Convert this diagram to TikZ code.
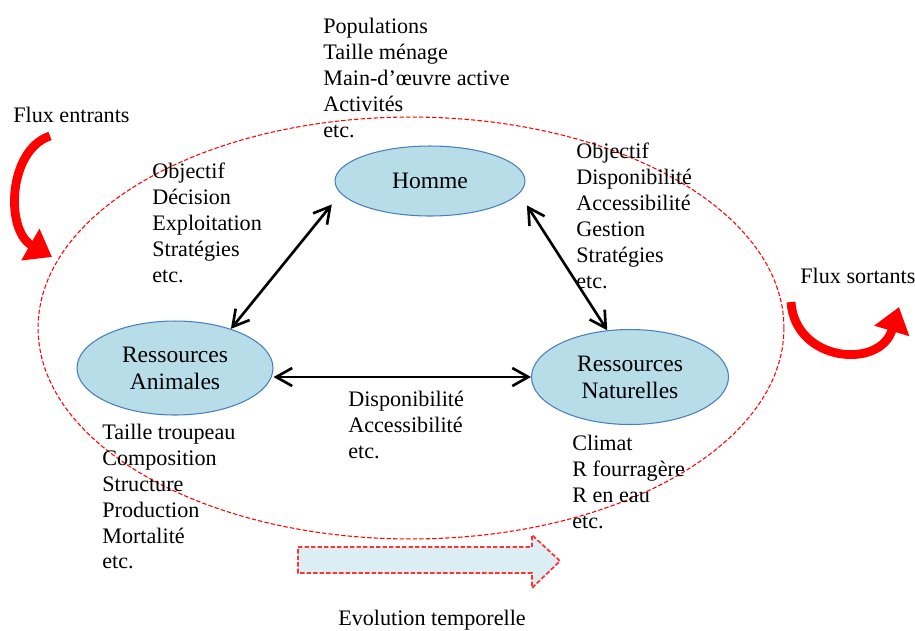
\documentclass[tikz,border=0pt]{standalone}
\usepackage{fontspec}
\setmainfont{Liberation Serif}
\usetikzlibrary{arrows.meta,calc,shapes.geometric}
\definecolor{poleblue}{HTML}{B7DDE8}
\definecolor{poleline}{HTML}{4A7EBB}
\definecolor{timeblue}{HTML}{DAEEF3}

\begin{document}
\begin{tikzpicture}[x=0.02cm,y=-0.02cm,>={Straight Barb[length=3.2mm,width=3.6mm]},
  every node/.style={font=\fontsize{12.6}{14.7}\selectfont},
  pole/.style={ellipse,draw=poleline,fill=poleblue,line width=0.6pt,inner sep=0pt,
    align=center,font=\fontsize{13.4}{15.3}\selectfont},
  info/.style={anchor=north west,inner sep=0pt,align=left},
  link/.style={<->,line width=1.5pt},
  flux/.style={red,line width=5pt,-{Triangle[length=5mm,width=7mm]}},
  boundary/.style={red,line width=0.6pt,dash pattern=on 2.5pt off 1.2pt},
  timeline/.style={fill=timeblue,draw=red!80,line width=1pt,dash pattern=on 2.5pt off 1.2pt}]
\useasboundingbox (0,0) rectangle (915,630);
% system boundary
\draw[boundary] (411,328) ellipse [x radius=7.46cm, y radius=4.22cm];
% poles
\node[pole,minimum width=3.8cm,minimum height=1.4cm] (homme) at (430,181) {Homme};
\node[pole,minimum width=3.92cm,minimum height=1.88cm] (animales) at (175,368) {Ressources\\Animales};
\node[pole,minimum width=3.94cm,minimum height=1.9cm] (naturelles) at (630,377) {Ressources\\Naturelles};
% interactions
\draw[link,shorten <=8pt] (homme.188) -- (animales.35);
\draw[link,shorten <=8pt] (homme.-8) -- (naturelles.116);
\draw[link] (naturelles.west -| animales.east) -- (naturelles.west);
% descriptors
\node[info] (menage) at (323,18) {Populations\\Taille ménage\\Main-d’œuvre active\\Activités\\etc.};
\node[info] (gestion) at (152,163) {Objectif\\Décision\\Exploitation\\Stratégies\\etc.};
\node[info] (acces) at (576,143) {Objectif\\Disponibilité\\Accessibilité\\Gestion\\Stratégies\\etc.};
\node[info] (echange) at (348,391) {Disponibilité\\Accessibilité\\etc.};
\node[info] (troupeau) at (102,424) {Taille troupeau\\Composition\\Structure\\Production\\Mortalité\\etc.};
\node[info] (milieu) at (572,435) {Climat\\R fourragère\\R en eau\\etc.};
% flows
\node[info] (entrants) at (13,107) {Flux entrants};
\draw[flux] (50,136) .. controls (8,150) and (5,230) .. (52,257);
\node[info] (sortants) at (800,268) {Flux sortants};
\draw[flux] (791,302) .. controls (795,362) and (880,370) .. (899,307);
% time
\draw[timeline] (298,547) -- (532,547) -- (532,535) -- (560,561) -- (532,588) -- (532,573) -- (298,573) -- cycle;
\node (evolution) at (432,620) {Evolution temporelle};
\end{tikzpicture}
\end{document}
